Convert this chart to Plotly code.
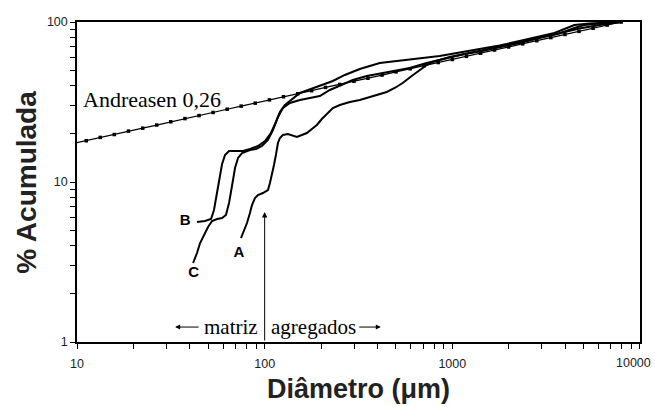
import math
import plotly.graph_objects as go

# Andreasen model points (q = 0.26)
andreasen_d = [9.44, 11.2, 13.3, 15.8, 18.8, 22.4, 26.6, 31.6, 37.6, 44.7, 53.1, 63.1, 75.0, 89.1,
               106, 126, 150, 178, 211, 251, 299, 355, 422, 501, 596, 708, 841, 1000, 1189,
               1413, 1679, 1995, 2371, 2818, 3350, 3981, 4732, 5623, 6683, 7943]
andreasen_pct = [17.35, 18.1, 19.0, 19.8, 20.8, 21.7, 22.7, 23.8, 24.9, 26.0, 27.2, 28.5, 29.8, 31.1,
                 32.6, 34.1, 35.6, 37.2, 39.0, 40.7, 42.6, 44.5, 46.6, 48.8, 51.0, 53.3, 55.8, 58.3,
                 61.0, 63.8, 66.8, 69.8, 73.0, 76.4, 79.9, 83.6, 87.4, 91.4, 95.6, 100]

# Curve A
a_d = [74.8, 77.6, 80.5, 83.5, 85.6, 88.8, 92.1, 97.9, 104.1, 106.7, 109.3, 112.1, 114.8, 117.7,
       120.6, 125.1, 133.0, 141.4, 148.5, 157.9, 167.9, 178.5, 189.7, 201.7, 214.5, 230.8, 251.5,
       284.3, 321.4, 363.2, 447.3, 493.3, 544.0, 607.5, 670.1, 730.0, 785.6, 877.2, 967.7, 1163,
       1397, 1785, 2280, 2913, 3722, 4472, 5054, 6075, 7953]
a_pct = [4.467, 4.94, 5.542, 6.401, 7.182, 7.943, 8.294, 8.534, 8.913, 9.857, 11.06, 12.77, 14.75,
         17.53, 18.84, 19.67, 19.95, 19.39, 19.11, 19.67, 20.24, 21.44, 22.71, 24.76, 26.61, 29.0,
         30.29, 31.62, 32.55, 33.98, 36.52, 38.69, 41.57, 45.97, 50.12, 53.85, 56.23, 58.71, 60.43,
         63.1, 65.89, 69.78, 74.45, 80.0, 84.75, 91.73, 95.78, 97.86, 100]

# Curve B
b_d = [43.6, 48.1, 51.8, 53.7, 55.1, 56.4, 57.8, 59.3, 61.5, 64.6, 70.4, 76.7, 83.5, 92.1, 100.4,
       108.0, 114.8, 120.6, 128.2, 139.7, 154.1, 176.3, 201.7, 230.8, 267.4, 321.4, 410.6, 524.6,
       670.1, 855.9, 1094, 1397, 1785, 2280, 2913, 3500, 3956, 4472, 5374, 6458, 7953]
b_pct = [5.623, 5.705, 5.871, 6.683, 7.943, 9.441, 11.06, 12.96, 14.75, 15.62, 15.62, 15.62, 16.08,
         16.79, 18.04, 20.24, 23.71, 27.38, 30.28, 33.02, 36.0, 38.13, 40.39, 42.78, 46.65, 50.84,
         55.42, 57.45, 59.13, 61.31, 64.48, 67.79, 71.3, 76.07, 81.17, 85.34, 90.4, 95.78, 97.86,
         99.28, 100]

# Curve C
c_d = [41.56, 43.6, 45.28, 47.54, 49.93, 52.45, 55.75, 59.3, 62.2, 64.6, 66.18, 67.83, 69.5, 72.12,
       75.74, 83.5, 89.9, 96.77, 104.1, 110.7, 117.7, 125.1, 136.3, 154.1, 174.2, 196.8, 222.5,
       251.5, 294.9, 350.0, 447.3, 592.9, 730.0, 932.6, 1163, 1397, 1785, 2280, 2913, 3722, 4754,
       6075, 7953]
c_pct = [3.117, 3.6, 4.157, 4.665, 5.233, 5.705, 5.871, 5.957, 6.22, 7.393, 8.534, 10.29, 12.23,
         14.13, 15.18, 15.85, 16.08, 16.79, 18.3, 21.13, 25.48, 29.0, 31.18, 32.55, 33.5, 34.47,
         37.58, 39.81, 43.41, 45.97, 48.7, 51.59, 55.43, 59.57, 63.1, 65.41, 69.28, 73.93, 79.43,
         85.34, 91.07, 95.78, 100]

curve_labels = ["A", "B", "C"]
label_d = [73.0, 37.7, 41.8]
label_pct = [3.6, 5.66, 2.70]

# tick positions and labels
x_tickvals = [10, 100, 1000, 10000]
x_ticktext = ["10", "100", "1000", "10000"]
y_tickvals = [1, 10, 100]
y_ticktext = ["1", "10", "100"]
x_minor_ticks = [20, 30, 40, 50, 60, 70, 80, 90, 200, 300, 400, 500, 600, 700, 800, 900,
                 2000, 3000, 4000, 5000, 6000, 7000, 8000, 9000]
y_minor_ticks = [2, 3, 4, 5, 6, 7, 8, 9, 20, 30, 40, 50, 60, 70, 80, 90]

serif = "Liberation Serif, Times New Roman"
sans = "Liberation Sans, Arial"

fig = go.Figure()
line_style = dict(color="black", width=2)
for d, p, name in [(a_d, a_pct, "A"), (b_d, b_pct, "B"), (c_d, c_pct, "C")]:
    fig.add_trace(go.Scatter(x=d, y=p, mode="lines", line=line_style, name=name, showlegend=False))

fig.add_trace(go.Scatter(x=andreasen_d, y=andreasen_pct, mode="lines+markers",
                         line=dict(color="black", width=1.2),
                         marker=dict(symbol="square", size=3.5, color="black"),
                         name="Andreasen 0,26", showlegend=False))

fig.add_trace(go.Scatter(x=label_d, y=label_pct, mode="text", text=curve_labels,
                         textfont=dict(family=sans, size=15, color="black", weight="bold"),
                         showlegend=False, hoverinfo="skip"))

yline = math.log10(1.24)
annotations = [
    dict(x=math.log10(10.5), y=math.log10(32.8), xref="x", yref="y", text="Andreasen 0,26",
         showarrow=False, xanchor="left", yanchor="middle",
         font=dict(family=serif, size=22, color="black")),
    # vertical arrow at 100 um
    dict(x=2, y=math.log10(6.5), ax=2, ay=0, xref="x", yref="y", axref="x", ayref="y",
         text="", showarrow=True, arrowhead=2, arrowsize=1.1, arrowwidth=1, arrowcolor="black"),
    dict(x=math.log10(95), y=yline, xref="x", yref="y", text="matriz",
         showarrow=False, xanchor="right", yanchor="middle",
         font=dict(family=serif, size=21, color="black")),
    dict(x=math.log10(105), y=yline, xref="x", yref="y", text="agregados",
         showarrow=False, xanchor="left", yanchor="middle",
         font=dict(family=serif, size=21, color="black")),
    dict(x=1.523, y=yline, ax=1.656, ay=yline, xref="x", yref="y",
         axref="x", ayref="y", text="", showarrow=True, arrowhead=2, arrowsize=1,
         arrowwidth=1, arrowcolor="black"),
    dict(x=2.619, y=yline, ax=2.496, ay=yline, xref="x", yref="y",
         axref="x", ayref="y", text="", showarrow=True, arrowhead=2, arrowsize=1,
         arrowwidth=1, arrowcolor="black"),
    # last x tick label, nudged inside the page like in the original
    dict(x=4, y=0, xref="x", yref="paper", text=x_ticktext[-1], showarrow=False,
         xanchor="right", yanchor="middle", xshift=13, yshift=-21,
         font=dict(family=sans, size=12.5, color="#222")),
    # axis titles
    dict(x=0.5, y=-0.095, xref="paper", yref="paper", text="<b>Diâmetro (μm)</b>",
         showarrow=False, xanchor="center", yanchor="top",
         font=dict(family=sans, size=27, color="#222")),
    dict(x=-0.091, y=0.5, xref="paper", yref="paper", text="<b>% Acumulada</b>", textangle=-90,
         showarrow=False, xanchor="center", yanchor="middle",
         font=dict(family=sans, size=28, color="#222")),
]

# major + minor ticks drawn through the axis tick mechanism (minor ones unlabelled)
x_all_ticks = x_tickvals + x_minor_ticks
x_all_text = x_ticktext[:-1] + [""] + [""] * len(x_minor_ticks)
y_all_ticks = y_tickvals + y_minor_ticks
y_all_text = y_ticktext + [""] * len(y_minor_ticks)

axis_common = dict(type="log", showline=True, linecolor="black", linewidth=1.5, mirror=True,
                   showgrid=False, zeroline=False, ticks="outside", ticklen=5, tickwidth=1.4,
                   tickcolor="black", automargin=False, tickmode="array",
                   tickfont=dict(family=sans, size=12.5, color="#222"))

fig.update_layout(
    width=655, height=407, autosize=False,
    margin=dict(l=77, r=15, t=22, b=65),
    paper_bgcolor="white", plot_bgcolor="white",
    annotations=annotations,
    xaxis=dict(axis_common, range=[1, 4.0001], tickvals=x_all_ticks, ticktext=x_all_text,
               ticklabelstandoff=4),
    yaxis=dict(axis_common, range=[0, 2], tickvals=y_all_ticks, ticktext=y_all_text),
)

fig.write_html("out.html", default_width="655px", default_height="407px",
               config={"responsive": False, "displayModeBar": False},
               post_script="document.body.style.margin='0';document.body.style.padding='0';")
